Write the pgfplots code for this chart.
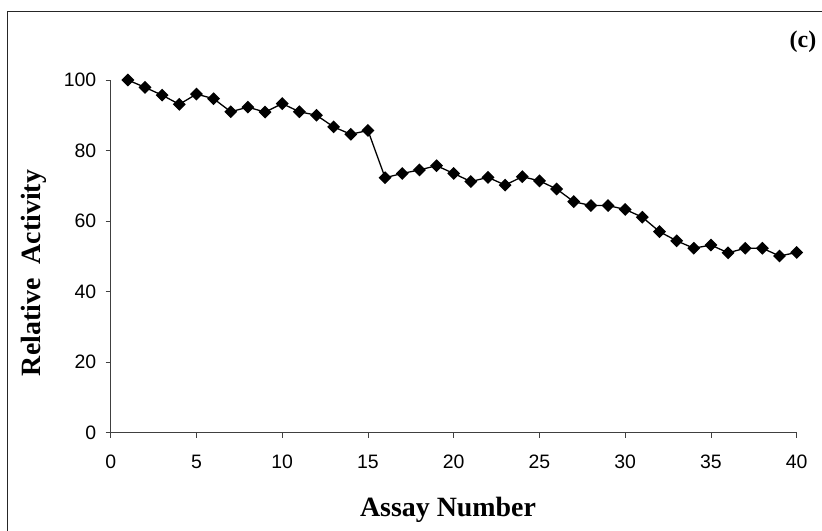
\documentclass[border=0pt]{standalone}
\usepackage{fontspec}
\setmainfont{Liberation Serif}
\setsansfont{Liberation Sans}
\usepackage{pgfplots}
\pgfplotsset{compat=1.18}

\begin{document}
\begin{tikzpicture}
\useasboundingbox (0bp,0bp) rectangle (822bp,531bp);
% outer frame
\draw[line width=1bp, black!85] (7bp,-10bp) -- (7bp,519bp) -- (840bp,519bp);
\begin{axis}[
  at={(110.7bp,98.3bp)}, anchor=south west,
  scale only axis, width=686bp, height=352.7bp,
  xmin=0, xmax=40, ymin=0, ymax=100,
  xtick={0,5,...,40}, ytick={0,20,...,100},
  axis x line*=bottom, axis y line*=left,
  axis line style={draw=black!75, line width=0.8bp},
  tick style={draw=black!75, line width=0.8bp},
  tick align=outside, major tick length=5bp,
  /pgf/number format/assume math mode=true,
  ticklabel style={font=\sffamily\fontsize{19.5}{22}\selectfont, text=black},
  xticklabel style={yshift=-14bp},
  yticklabel style={xshift=-6bp},
  clip=false,
]
\addplot[black, line width=1.3bp, mark=square*, mark size=3.9bp,
  mark options={rotate=45, solid, fill=black}]
coordinates {
(1,100) (2,97.9) (3,95.7) (4,93.1) (5,96.0) (6,94.7) (7,91.0) (8,92.3)
(9,90.9) (10,93.3) (11,91.0) (12,90.0) (13,86.7) (14,84.6) (15,85.7)
(16,72.3) (17,73.5) (18,74.5) (19,75.7) (20,73.5) (21,71.2) (22,72.4)
(23,70.2) (24,72.6) (25,71.4) (26,69.1) (27,65.5) (28,64.4) (29,64.4)
(30,63.3) (31,61.1) (32,57.0) (33,54.4) (34,52.3) (35,53.2) (36,51.0)
(37,52.3) (38,52.3) (39,50.1) (40,51.1)
};
\end{axis}
% axis titles and panel tag
\node[font=\bfseries\fontsize{28}{32}\selectfont, rotate=90] at (34bp,258bp) {Relative\ \ Activity};
\node[font=\bfseries\fontsize{28}{32}\selectfont, anchor=base] at (448bp,14.3bp) {Assay Number};
\node[font=\bfseries\fontsize{24}{28}\selectfont] at (803bp,489bp) {(c)};
\end{tikzpicture}
\end{document}
